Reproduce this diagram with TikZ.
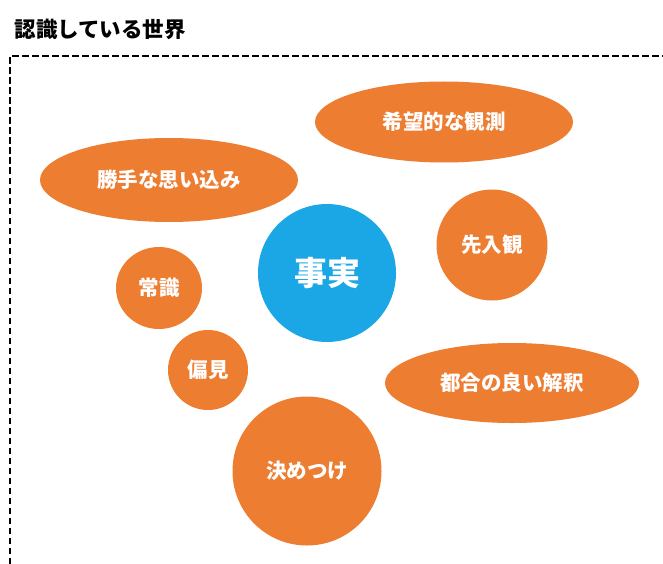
\documentclass[tikz,border=0pt]{standalone}
\usepackage{fontspec}
\setmainfont{Noto Sans CJK JP}
\usetikzlibrary{shapes.geometric}
\definecolor{orng}{RGB}{237,125,49}
\definecolor{blu}{RGB}{27,166,230}
\begin{document}
\begin{tikzpicture}[x=1pt,y=-1pt,
  bubble/.style={ellipse,fill=orng,text=white,inner sep=0pt,
    font=\fontsize{20.5}{20.5}\selectfont\bfseries},
  factbox/.style={circle,fill=blu,text=white,inner sep=0pt,
    font=\fontsize{33}{33}\selectfont\bfseries}]
\useasboundingbox (0,0) rectangle (663,564);
\fill[white] (0,0) rectangle (663,564);
\node[anchor=west,font=\fontsize{21.5}{21.5}\selectfont\bfseries] (title) at (11,29) {認識している世界};
\draw[line width=1.6pt,dash pattern=on 6.5pt off 3.5pt] (10,564) -- (10,56) -- (663,56);
\node[bubble,minimum width=258pt,minimum height=81pt] (hope) at (444,122) {希望的な観測};
\node[bubble,minimum width=258pt,minimum height=84pt] (selfish) at (169,180) {勝手な思い込み};
\node[bubble,minimum width=111pt,minimum height=111pt] (prejudge) at (492,245) {先入観};
\node[factbox,minimum size=138pt] (fact) at (327,273) {事実};
\node[bubble,minimum width=86pt,minimum height=82pt] (common) at (159,288) {常識};
\node[bubble,minimum width=80pt,minimum height=80pt] (bias) at (208,370) {偏見};
\node[bubble,minimum width=254pt,minimum height=80pt] (conv) at (512,383) {都合の良い解釈};
\node[bubble,minimum width=149pt,minimum height=149pt] (assume) at (307,471) {決めつけ};
\end{tikzpicture}
\end{document}
